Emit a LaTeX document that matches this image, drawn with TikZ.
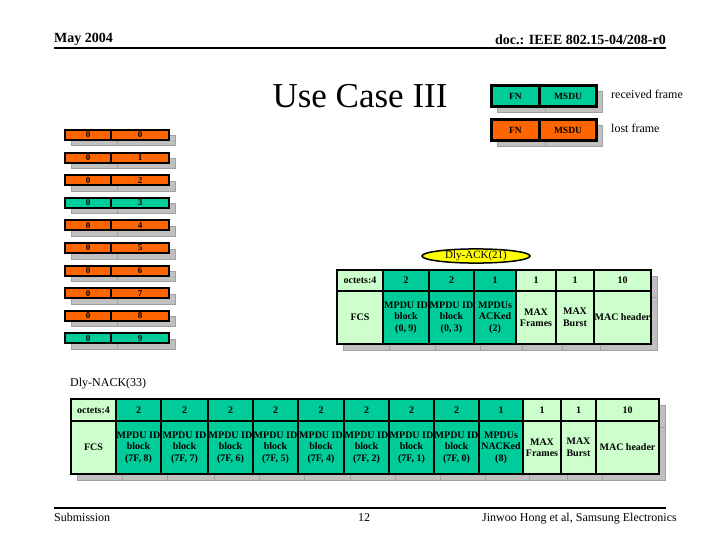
\documentclass[tikz,border=0pt]{standalone}
\usepackage{fontspec}
\setmainfont{Liberation Serif}
\usetikzlibrary{shapes.geometric,shadows}
\definecolor{lostor}{RGB}{255,102,0}
\definecolor{recvgr}{RGB}{0,204,153}
\definecolor{palegr}{RGB}{204,255,204}
\definecolor{shgrey}{RGB}{192,192,192}
\definecolor{shline}{RGB}{160,160,160}
\definecolor{tagyel}{RGB}{255,255,0}

\begin{document}
\begin{tikzpicture}[x=1pt,y=-1pt,
  cl/.style={draw=black,line width=2pt,inner sep=0pt,anchor=north west,
             align=center,font=\bfseries\fontsize{10}{11.5}\selectfont,
             copy shadow={fill=shgrey,draw=shline,line width=1pt,
                          shadow xshift=6pt,shadow yshift=-6pt}},
  lost/.style={cl,fill=lostor},
  recv/.style={cl,fill=recvgr},
  pale/.style={cl,fill=palegr},
  rw/.style={minimum height=10,font=\bfseries\fontsize{9}{9}\selectfont},
  lg/.style={line width=3pt,minimum height=21,font=\bfseries\fontsize{9.5}{10}\selectfont},
  txt/.style={inner sep=0pt,anchor=base west,font=\fontsize{12}{14}\selectfont}]
\useasboundingbox (0,0) rectangle (720,540);

% header and footer
\node[txt,font=\bfseries\fontsize{14}{16}\selectfont] (date) at (54,43) {May 2004};
\node[txt,anchor=base east,font=\bfseries\fontsize{14}{16}\selectfont] (doc) at (666,45)
  {doc.: IEEE 802.15-04/208-r0};
\draw[line width=2pt] (54,48) -- (666,48);
\node[txt,anchor=base,font=\fontsize{35}{40}\selectfont] (title) at (360,108) {Use Case III};
\draw[line width=2pt] (54,508) -- (666,508);
\node[txt] (sub) at (54,521) {Submission};
\node[txt,anchor=base] (page) at (364,521) {12};
\node[txt,anchor=base east] (auth) at (677,521) {Jinwoo Hong et al, Samsung Electronics};

% legend
\node[recv,lg,minimum width=48] (lg-fn1) at (490,84) {FN};
\node[recv,lg,minimum width=57] (lg-sdu1) at (538,84) {MSDU};
\node[lost,lg,minimum width=48] (lg-fn2) at (490,118) {FN};
\node[lost,lg,minimum width=57] (lg-sdu2) at (538,118) {MSDU};
\node[txt,anchor=west] (lg-rx) at (611,94) {received frame};
\node[txt,anchor=west] (lg-lost) at (611,128) {lost frame};

% frames sent, FN 0 / MSDU 0..9
\foreach \sty [count=\i from 0] in {lost,lost,lost,recv,lost,lost,lost,lost,lost,recv}{
  \node[\sty,rw,minimum width=46] (fn\i) at (64,{129+22.6*\i}) {0};
  \node[\sty,rw,minimum width=58] (sn\i) at (110,{129+22.6*\i}) {\i};
}

% delayed ACK
\node[ellipse,draw,line width=1.5pt,fill=tagyel,minimum width=108,minimum height=14,
  inner sep=0pt,font=\fontsize{11}{12}\selectfont] (ack-tag) at (476,256) {Dly-ACK(21)};
\foreach \xa/\xb/\oct/\fld/\sty [count=\i] in {
  336/382/{octets:4}/FCS/pale,
  382/428/2/{MPDU ID\\block\\(0, 9)}/recv,
  428/473/2/{MPDU ID\\block\\(0, 3)}/recv,
  473/515/1/{MPDUs\\ACKed\\(2)}/recv,
  515/555/1/{MAX\\Frames}/pale,
  555/593/1/{MAX\\Burst}/pale,
  593/650/10/{MAC header}/pale}{
  \node[\sty,minimum width=\xb-\xa,minimum height=21] (ack-o\i) at (\xa,269) {\oct};
}
\foreach \xa/\xb/\oct/\fld/\sty [count=\i] in {
  336/382/{octets:4}/FCS/pale,
  382/428/2/{MPDU ID\\block\\(0, 9)}/recv,
  428/473/2/{MPDU ID\\block\\(0, 3)}/recv,
  473/515/1/{MPDUs\\ACKed\\(2)}/recv,
  515/555/1/{MAX\\Frames}/pale,
  555/593/1/{MAX\\Burst}/pale,
  593/650/10/{MAC header}/pale}{
  \node[\sty,minimum width=\xb-\xa,minimum height=53] (ack-f\i) at (\xa,290) {\fld};
}

% delayed NACK
\node[txt] (nack-tag) at (70,386) {Dly-NACK(33)};
\foreach \xa/\xb/\oct/\fld/\sty [count=\i] in {
  70/115/{octets:4}/FCS/pale,
  115/160/2/{MPDU ID\\block\\(7F, 8)}/recv,
  160/207/2/{MPDU ID\\block\\(7F, 7)}/recv,
  207/252/2/{MPDU ID\\block\\(7F, 6)}/recv,
  252/297/2/{MPDU ID\\block\\(7F, 5)}/recv,
  297/343/2/{MPDU ID\\block\\(7F, 4)}/recv,
  343/388/2/{MPDU ID\\block\\(7F, 2)}/recv,
  388/433/2/{MPDU ID\\block\\(7F, 1)}/recv,
  433/478/2/{MPDU ID\\block\\(7F, 0)}/recv,
  478/522/1/{MPDUs\\NACKed\\(8)}/recv,
  522/560/1/{MAX\\Frames}/pale,
  560/595/1/{MAX\\Burst}/pale,
  595/658/10/{MAC header}/pale}{
  \node[\sty,minimum width=\xb-\xa,minimum height=22] (nack-o\i) at (\xa,398) {\oct};
}
\foreach \xa/\xb/\oct/\fld/\sty [count=\i] in {
  70/115/{octets:4}/FCS/pale,
  115/160/2/{MPDU ID\\block\\(7F, 8)}/recv,
  160/207/2/{MPDU ID\\block\\(7F, 7)}/recv,
  207/252/2/{MPDU ID\\block\\(7F, 6)}/recv,
  252/297/2/{MPDU ID\\block\\(7F, 5)}/recv,
  297/343/2/{MPDU ID\\block\\(7F, 4)}/recv,
  343/388/2/{MPDU ID\\block\\(7F, 2)}/recv,
  388/433/2/{MPDU ID\\block\\(7F, 1)}/recv,
  433/478/2/{MPDU ID\\block\\(7F, 0)}/recv,
  478/522/1/{MPDUs\\NACKed\\(8)}/recv,
  522/560/1/{MAX\\Frames}/pale,
  560/595/1/{MAX\\Burst}/pale,
  595/658/10/{MAC header}/pale}{
  \node[\sty,minimum width=\xb-\xa,minimum height=53] (nack-f\i) at (\xa,420) {\fld};
}
\end{tikzpicture}
\end{document}
